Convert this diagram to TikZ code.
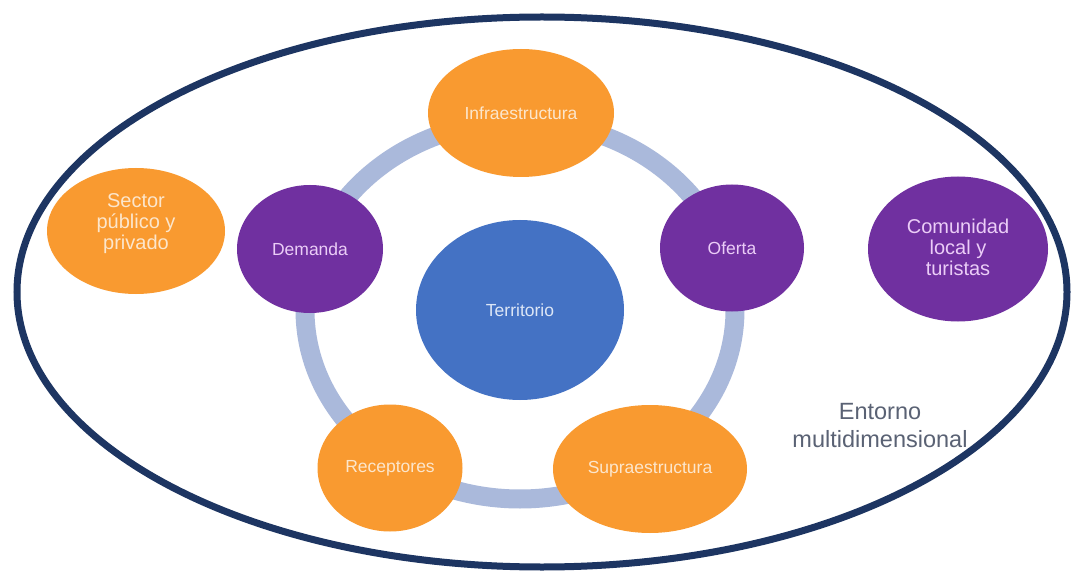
\documentclass[tikz,border=0pt]{standalone}
\usepackage{fontspec}
\setmainfont{Liberation Sans}
\usetikzlibrary{shapes.geometric}
\definecolor{navy}{HTML}{1D3562}
\definecolor{orng}{HTML}{F99A30}
\definecolor{purp}{HTML}{7030A0}
\definecolor{terr}{HTML}{4472C4}
\definecolor{ringc}{HTML}{AAB9DB}
\definecolor{otxt}{HTML}{FCE6CC}
\definecolor{ptxt}{HTML}{EBCDF7}
\definecolor{btxt}{HTML}{DCE6F6}
\definecolor{gtxt}{HTML}{5A6274}
\begin{document}
\begin{tikzpicture}[x=1pt,y=-1pt,
  bubble/.style={ellipse, inner sep=0pt, outer sep=0pt, align=center,
    font=\fontsize{17.5}{20}\selectfont},
  orangeb/.style={bubble, fill=orng, text=otxt},
  purpleb/.style={bubble, fill=purp, text=ptxt},
  bigtext/.style={inner sep=0pt, align=center, font=\fontsize{20}{21}\selectfont},
  ringline/.style={ellipse, draw=ringc, line width=19pt, inner sep=0pt},
  envline/.style={ellipse, draw=navy, line width=7pt, inner sep=0pt}
]
\useasboundingbox[fill=white] (0,0) rectangle (1074,572);

% outer environment
\node[envline, minimum width=1050pt, minimum height=550pt] (env) at (542,292) {};

% ring
\node[ringline, minimum width=430pt, minimum height=378pt] (ring) at (520,310) {};

% centre
\node[bubble, fill=terr, text=btxt, minimum width=208pt, minimum height=180pt] (terr) at (520,310) {Territorio};

% ring members
\node[orangeb, minimum width=186pt, minimum height=128pt] (infra) at (521,113) {Infraestructura};
\node[purpleb, minimum width=144pt, minimum height=127pt] (oferta) at (732,248) {Oferta};
\node[orangeb, minimum width=194pt, minimum height=128pt] (supra) at (650,469) {Supraestructura};
\node[orangeb, minimum width=145pt, minimum height=127pt] (recep) at (390,468) {Receptores};
\node[purpleb, minimum width=146pt, minimum height=128pt] (demanda) at (310,249) {Demanda};

% outer actors
\node[bubble, fill=orng, minimum width=178pt, minimum height=126pt] (sector) at (136,231) {};
\node[bigtext, text=otxt] (sectorT) at (136,224) {Sector\\público y\\privado};
\node[bubble, fill=purp, minimum width=180pt, minimum height=145pt] (comun) at (958,249) {};
\node[bigtext, text=ptxt] (comunT) at (958,247) {Comunidad\\local y\\turistas};

% label
\node[inner sep=0pt, align=center, text=gtxt, font=\fontsize{23.5}{28}\selectfont] (entorno) at (880,426) {Entorno\\multidimensional};
\end{tikzpicture}
\end{document}
